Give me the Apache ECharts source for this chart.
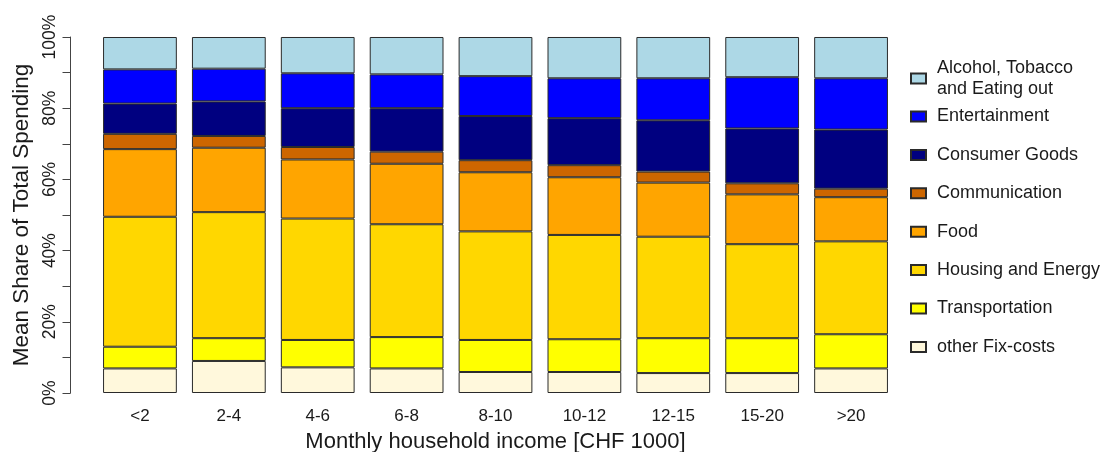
<!DOCTYPE html>
<html>
<head>
<meta charset="utf-8">
<script src="https://cdn.jsdelivr.net/npm/echarts@6/dist/echarts.min.js"></script>
<style>
html,body{margin:0;padding:0;background:#fff;}
#c{width:1107px;height:452px;}
</style>
</head>
<body>
<div id="c"></div>
<script>
const categories = ['<2','2-4','4-6','6-8','8-10','10-12','12-15','15-20','>20'];
const otherFix      = [6.9, 9.0, 7.2, 6.9, 5.9, 5.9, 5.6, 5.6, 6.9];
const transport     = [6.1, 6.4, 7.7, 8.8, 9.0, 9.2, 9.8, 9.8, 9.6];
const housing       = [36.5, 35.4, 34.1, 31.7, 30.5, 29.3, 28.5, 26.4, 26.1];
const food          = [19.0, 18.1, 16.6, 17.0, 16.6, 16.2, 15.2, 14.0, 12.4];
const communication = [4.3, 3.3, 3.5, 3.4, 3.4, 3.4, 3.1, 3.1, 2.4];
const consumer      = [8.5, 9.7, 10.9, 12.2, 12.4, 13.2, 14.4, 15.4, 16.6];
const entertainment = [9.6, 9.2, 9.8, 9.5, 11.2, 11.2, 11.8, 14.4, 14.4];
const alcohol       = [9.1, 8.9, 10.2, 10.5, 11.0, 11.6, 11.6, 11.3, 11.6];
const yTicks = [0, 20, 40, 60, 80, 100];

const FONT = "'Liberation Sans', Arial, sans-serif";
const seriesDefs = [
  ['other Fix-costs', otherFix, '#FFF8DC'],
  ['Transportation', transport, '#FFFF00'],
  ['Housing and Energy', housing, '#FFD700'],
  ['Food', food, '#FFA500'],
  ['Communication', communication, '#CD6600'],
  ['Consumer Goods', consumer, '#000080'],
  ['Entertainment', entertainment, '#0000FF'],
  ['Alcohol, Tobacco\nand Eating out', alcohol, '#ADD8E6']
];

const chart = echarts.init(document.getElementById('c'), null, {renderer:'canvas'});
chart.setOption({
  animation: false,
  backgroundColor: '#fff',
  grid: {left: 95.5, right: 211.5, top: 37, bottom: 59, containLabel: false, outerBoundsMode: 'none'},
  xAxis: {
    type: 'category',
    data: categories,
    axisLine: {show: false},
    axisTick: {show: false},
    axisLabel: {fontSize: 17, color: '#1a1a1a', fontFamily: FONT, margin: 14.5},
    name: 'Monthly household income [CHF 1000]',
    nameLocation: 'middle',
    nameGap: 37.5,
    nameTextStyle: {fontSize: 22, color: '#1a1a1a', fontFamily: FONT}
  },
  yAxis: {
    type: 'value',
    min: 0, max: 100, interval: 10,
    offset: 25,
    splitLine: {show: false},
    axisLine: {show: true, lineStyle: {color: '#444', width: 1}},
    axisTick: {show: true, length: 8, lineStyle: {color: '#444'}},
    axisLabel: {
      rotate: 90, margin: 11, fontSize: 17.5, color: '#1a1a1a', fontFamily: FONT,
      formatter: v => yTicks.indexOf(v) >= 0 ? v + '%' : ''
    },
    name: 'Mean Share of Total Spending',
    nameLocation: 'middle',
    nameRotate: 90,
    nameGap: 35.5,
    nameTextStyle: {fontSize: 22.5, color: '#1a1a1a', fontFamily: FONT}
  },
  legend: [
    {
      data: ['Alcohol, Tobacco\nand Eating out'],
      orient: 'vertical',
      left: 905, top: 52.5,
      icon: 'rect', itemWidth: 15, itemHeight: 10,
      textStyle: {fontSize: 18, color: '#1a1a1a', fontFamily: FONT, lineHeight: 21, padding: [0,0,0,6]}
    },
    {
      data: ['Entertainment','Consumer Goods','Communication','Food','Housing and Energy','Transportation','other Fix-costs'],
      orient: 'vertical',
      left: 905, top: 101.5,
      icon: 'rect', itemWidth: 15, itemHeight: 10, itemGap: 18.4,
      textStyle: {fontSize: 18, color: '#1a1a1a', fontFamily: FONT, lineHeight: 20, padding: [0,0,0,6]}
    }
  ],
  series: seriesDefs.map(([name, data, color]) => ({
    name: name,
    type: 'bar',
    stack: 'total',
    data: data,
    barCategoryGap: '17%',
    itemStyle: {color: color, borderColor: '#2a2a2a', borderWidth: 1}
  }))
});
</script>
</body>
</html>
